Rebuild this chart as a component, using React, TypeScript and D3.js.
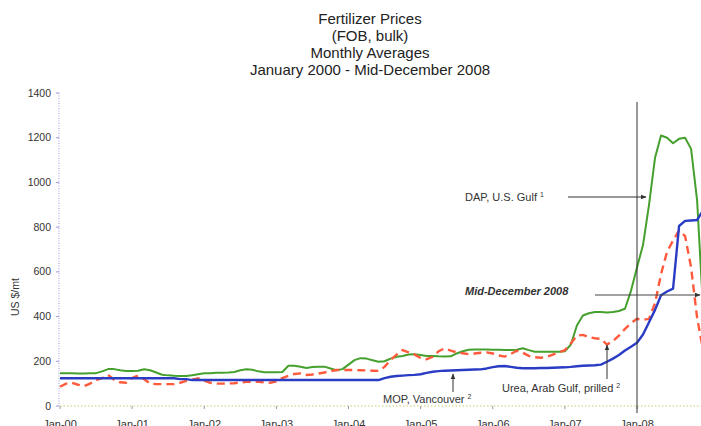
import React from "react";
import * as d3 from "d3";

const titleLines = ["Fertilizer Prices", "(FOB, bulk)", "Monthly Averages", "January 2000 - Mid-December 2008"];
const yTicks = [0, 200, 400, 600, 800, 1000, 1200, 1400];
const xTickLabels = ["Jan-00", "Jan-01", "Jan-02", "Jan-03", "Jan-04", "Jan-05", "Jan-06", "Jan-07", "Jan-08"];

// Monthly values, Jan 2000 .. Dec 2008 (US $/mt)
const dapUSGulf = [
  146, 146, 147, 145, 145, 146, 147, 155, 165, 165, 160, 157,
  157, 158, 164, 160, 150, 140, 137, 135, 134, 134, 138, 142,
  146, 147, 149, 149, 150, 152, 160, 164, 162, 155, 151, 151,
  151, 152, 180, 180, 176, 170, 174, 176, 176, 168, 160, 165,
  185, 205, 214, 212, 205, 198, 200, 212, 220, 224, 230, 232,
  228, 224, 224, 222, 221, 222, 235, 245, 252, 253, 253, 253,
  252, 252, 251, 250, 252, 258, 250, 243, 243, 243, 243, 243,
  245, 275, 360, 405, 415, 420, 420, 418, 420, 425, 435, 515,
  620, 720, 900, 1110, 1210, 1200, 1175, 1195, 1200, 1150, 920, 430,
];
const ureaArabGulf = [
  86, 100, 104, 95, 89, 100, 116, 125, 139, 118, 106, 104,
  125, 136, 120, 100, 98, 98, 98, 98, 104, 112, 118, 124,
  114, 104, 100, 100, 101, 102, 105, 108, 109, 108, 106, 104,
  110, 125, 135, 143, 146, 139, 141, 145, 150, 156, 161, 161,
  161, 161, 160, 159, 158, 157, 175, 206, 230, 250, 240, 230,
  215, 209, 220, 245, 258, 248, 240, 236, 232, 235, 238, 240,
  235, 226, 221, 233, 247, 238, 224, 218, 216, 220, 230, 240,
  250, 280, 315, 318, 308, 303, 300, 275, 290, 315, 345, 370,
  390, 385, 390, 460, 590, 690, 740, 785, 760, 620, 395, 250,
];
const mopVancouver = [
  124, 124, 124, 124, 124, 124, 124, 124, 124, 124, 124, 124,
  124, 124, 124, 124, 124, 124, 124, 124, 120, 120, 116, 116,
  116, 116, 116, 116, 116, 116, 116, 116, 116, 116, 116, 116,
  116, 116, 116, 116, 116, 116, 116, 116, 116, 116, 116, 116,
  116, 116, 116, 116, 116, 116, 125, 131, 134, 136, 138, 139,
  142, 148, 153, 156, 158, 159, 160, 161, 162, 163, 164, 168,
  174, 178, 179, 175, 171, 169, 169, 169, 170, 170, 171, 172,
  173, 175, 178, 180, 181, 182, 185, 198, 212, 228, 248, 265,
  283, 320, 375, 430, 495, 512, 525, 805, 828, 830, 832, 875,
];

const W = 701;
const H = 426;
const FONT = "'Liberation Sans', Arial, sans-serif";

export default function App() {
  const x = d3.scaleLinear().domain([0, 96]).range([60, 637]);
  const y = d3.scaleLinear().domain([0, 1400]).range([406, 93]);
  const line = d3
    .line<number>()
    .x((_, i) => x(i))
    .y((d) => y(d));

  const midDecY = y(500);
  return (
    <svg
      width={W}
      height={H}
      style={{ position: "absolute", left: 0, top: 0, background: "#fff" }}
      fontFamily={FONT}
    >
      <defs>
        <marker id="ah" viewBox="0 0 10 10" refX="9" refY="5" markerWidth="6" markerHeight="6" orient="auto">
          <path d="M0,1 L10,5 L0,9 z" fill="#333" />
        </marker>
      </defs>
      <rect x={0} y={0} width={W} height={H} fill="#fff" />
      {titleLines.map((t, i) => (
        <text key={t} x={370} y={24 + i * 17} textAnchor="middle" fontSize={15} fill="#222">
          {t}
        </text>
      ))}

      {/* y axis */}
      <line x1={x(0) - 1} x2={x(0) - 1} y1={y(1400)} y2={y(0)} stroke="#9a9ad8" strokeDasharray="1,1.5" />
      {yTicks.map((t) => (
        <g key={t}>
          <line x1={x(0) - 4} x2={x(0) - 1} y1={y(t)} y2={y(t)} stroke="#9a9ad8" />
          <text x={51} y={y(t) + 3.5} textAnchor="end" fontSize={10.5} fill="#333">
            {t}
          </text>
        </g>
      ))}
      <text transform={`translate(19,297) rotate(-90)`} textAnchor="middle" fontSize={10.5} fill="#333">
        US $/mt
      </text>

      {/* x axis */}
      <line x1={x(0)} x2={W} y1={y(0)} y2={y(0)} stroke="#c8cc70" strokeDasharray="1.5,2" />
      {xTickLabels.map((t, i) => (
        <g key={t}>
          <line x1={x(i * 12)} x2={x(i * 12)} y1={y(0)} y2={y(0) + 3} stroke="#999" />
          <text x={x(i * 12)} y={428} textAnchor="middle" fontSize={11} fill="#333">
            {t}
          </text>
        </g>
      ))}

      {/* series */}
      <path d={line(dapUSGulf) || ""} fill="none" stroke="#45a02e" strokeWidth={2} strokeLinejoin="round" />
      <path
        d={line(ureaArabGulf) || ""}
        fill="none"
        stroke="#ff5a3c"
        strokeWidth={2.4}
        strokeDasharray="8,5"
      />
      <path d={line(mopVancouver) || ""} fill="none" stroke="#2a3cc4" strokeWidth={2.4} strokeLinejoin="round" />

      {/* Jan-08 vertical line */}
      <line x1={x(96)} x2={x(96)} y1={102} y2={413} stroke="#333" strokeWidth={1} />

      {/* annotations */}
      <text x={465} y={201} fontSize={11} fill="#333">
        DAP, U.S. Gulf <tspan fontSize={7} dy={-4}>1</tspan>
      </text>
      <line x1={568} x2={646} y1={197} y2={197} stroke="#333" strokeWidth={1} markerEnd="url(#ah)" />

      <text x={465} y={midDecY - 3 + 4} fontSize={11} fontWeight="bold" fontStyle="italic" fill="#333">
        Mid-December 2008
      </text>
      <line x1={595} x2={700} y1={295} y2={295} stroke="#444" strokeWidth={1} markerEnd="url(#ah)" />

      <text x={502} y={392} fontSize={11} fill="#333">
        Urea, Arab Gulf, prilled <tspan fontSize={7} dy={-4}>2</tspan>
      </text>
      <line x1={607} x2={607} y1={379} y2={345} stroke="#333" strokeWidth={1} markerEnd="url(#ah)" />

      <text x={383} y={403} fontSize={11} fill="#333">
        MOP, Vancouver <tspan fontSize={7} dy={-4}>2</tspan>
      </text>
      <line x1={453} x2={453} y1={392} y2={374} stroke="#333" strokeWidth={1} markerEnd="url(#ah)" />
    </svg>
  );
}
